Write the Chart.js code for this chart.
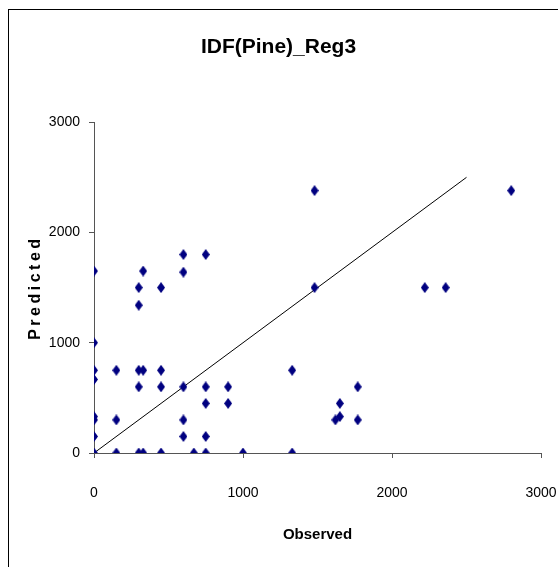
<!DOCTYPE html>
<html>
<head>
<meta charset="utf-8">
<script src="https://cdn.jsdelivr.net/npm/chart.js@4/dist/chart.umd.min.js"></script>
<style>
  html, body { margin: 0; padding: 0; background: #fff; overflow: hidden; }
  #frame { position: absolute; left: 8px; top: 9px; width: 600px; height: 600px; border: 1px solid #000; }
  #c { position: absolute; left: 0; top: 0; }
</style>
</head>
<body>
<div id="frame"></div>
<canvas id="c" width="558" height="567"></canvas>
<script>
// Observed vs predicted values.
const observed = [
  0, 0, 0, 0, 0, 0, 0, 0,
  150, 150, 150,
  300, 300, 300, 300, 300,
  330, 330, 330,
  450, 450, 450, 450,
  600, 600, 600, 600, 600,
  670,
  750, 750, 750, 750, 750,
  900, 900,
  1000,
  1330, 1330,
  1480, 1480,
  1620, 1650, 1650,
  1770, 1770,
  2220, 2360, 2800
];
const predicted = [
  0, 150, 300, 330, 667, 750, 1000, 1650,
  0, 300, 750,
  0, 600, 750, 1340, 1500,
  0, 750, 1650,
  0, 600, 750, 1500,
  150, 300, 600, 1640, 1800,
  0,
  0, 150, 450, 600, 1800,
  450, 600,
  0,
  0, 750,
  1500, 2380,
  300, 330, 450,
  300, 600,
  1500, 1500, 2380
];

// 1:1 reference line
const lineX = [0, 2500];
const lineY = [0, 2500];

const tickValues = [0, 1000, 2000, 3000];

const FONT = "'Liberation Sans', Arial, sans-serif";
const AXIS_COLOR = '#555';

// navy diamond marker, taller than wide like the Excel one
function diamond(w, h, color) {
  const cv = document.createElement('canvas');
  cv.width = w; cv.height = h;
  const g = cv.getContext('2d');
  g.fillStyle = color;
  g.beginPath();
  g.moveTo(w / 2, 0);
  g.lineTo(w, h / 2);
  g.lineTo(w / 2, h);
  g.lineTo(0, h / 2);
  g.closePath();
  g.fill();
  return cv;
}

// spaced-out y title ("P r e d i c t e d" look)
const spacedTitle = {
  id: 'spacedTitle',
  afterLayout(chart) {
    const s = chart.scales.y;
    if (s._spaced) return;
    const orig = s.drawTitle;
    s.drawTitle = function (area) {
      this.ctx.save();
      this.ctx.letterSpacing = '3.5px';
      orig.call(this, area);
      this.ctx.restore();
    };
    s._spaced = true;
  }
};

const points = observed.map((v, i) => ({ x: v, y: predicted[i] }));
const line = lineX.map((v, i) => ({ x: v, y: lineY[i] }));

new Chart(document.getElementById('c').getContext('2d'), {
  type: 'scatter',
  data: {
    datasets: [
      {
        data: points,
        pointStyle: diamond(8, 11, '#000080'),
        pointRadius: 5,
        pointHoverRadius: 5
      },
      {
        data: line,
        showLine: true,
        borderColor: '#000',
        borderWidth: 1,
        pointRadius: 0,
        fill: false
      }
    ]
  },
  options: {
    responsive: false,
    animation: false,
    devicePixelRatio: 1,
    layout: { padding: { left: 16, right: 17, top: 0, bottom: 0 } },
    plugins: {
      legend: { display: false },
      tooltip: { enabled: false },
      title: {
        display: true,
        text: 'IDF(Pine)_Reg3',
        color: '#000',
        font: { family: FONT, size: 21, weight: 'bold' },
        padding: { top: 35, bottom: 62 }
      }
    },
    scales: {
      x: {
        type: 'linear',
        min: 0,
        max: 3000,
        afterBuildTicks: (s) => { s.ticks = tickValues.map(v => ({ value: v })); },
        afterFit: (s) => { s.height = 114; s.paddingLeft = 0; s.paddingRight = 0; },
        grid: { display: true, drawOnChartArea: false, drawTicks: true, tickLength: 5, color: AXIS_COLOR },
        border: { display: true, color: AXIS_COLOR, width: 1 },
        ticks: { color: '#000', font: { family: FONT, size: 14 }, padding: 27, maxRotation: 0, callback: (v) => String(v) },
        title: {
          display: true,
          text: 'Observed',
          color: '#000',
          font: { family: FONT, size: 15, weight: 'bold' },
          padding: { top: 0, bottom: 23 }
        }
      },
      y: {
        type: 'linear',
        min: 0,
        max: 3000,
        afterBuildTicks: (s) => { s.ticks = tickValues.map(v => ({ value: v })); },
        afterFit: (s) => { s.width = 78; s.paddingTop = 0; s.paddingBottom = 0; },
        grid: { display: true, drawOnChartArea: false, drawTicks: true, tickLength: 5, color: AXIS_COLOR },
        border: { display: true, color: AXIS_COLOR, width: 1 },
        ticks: { color: '#000', font: { family: FONT, size: 14 }, padding: 9, callback: (v) => String(v) },
        title: {
          display: true,
          text: 'Predicted',
          color: '#000',
          font: { family: FONT, size: 16, weight: 'bold' },
          padding: { top: 10, bottom: 0 }
        }
      }
    }
  },
  plugins: [spacedTitle]
});
</script>
</body>
</html>
